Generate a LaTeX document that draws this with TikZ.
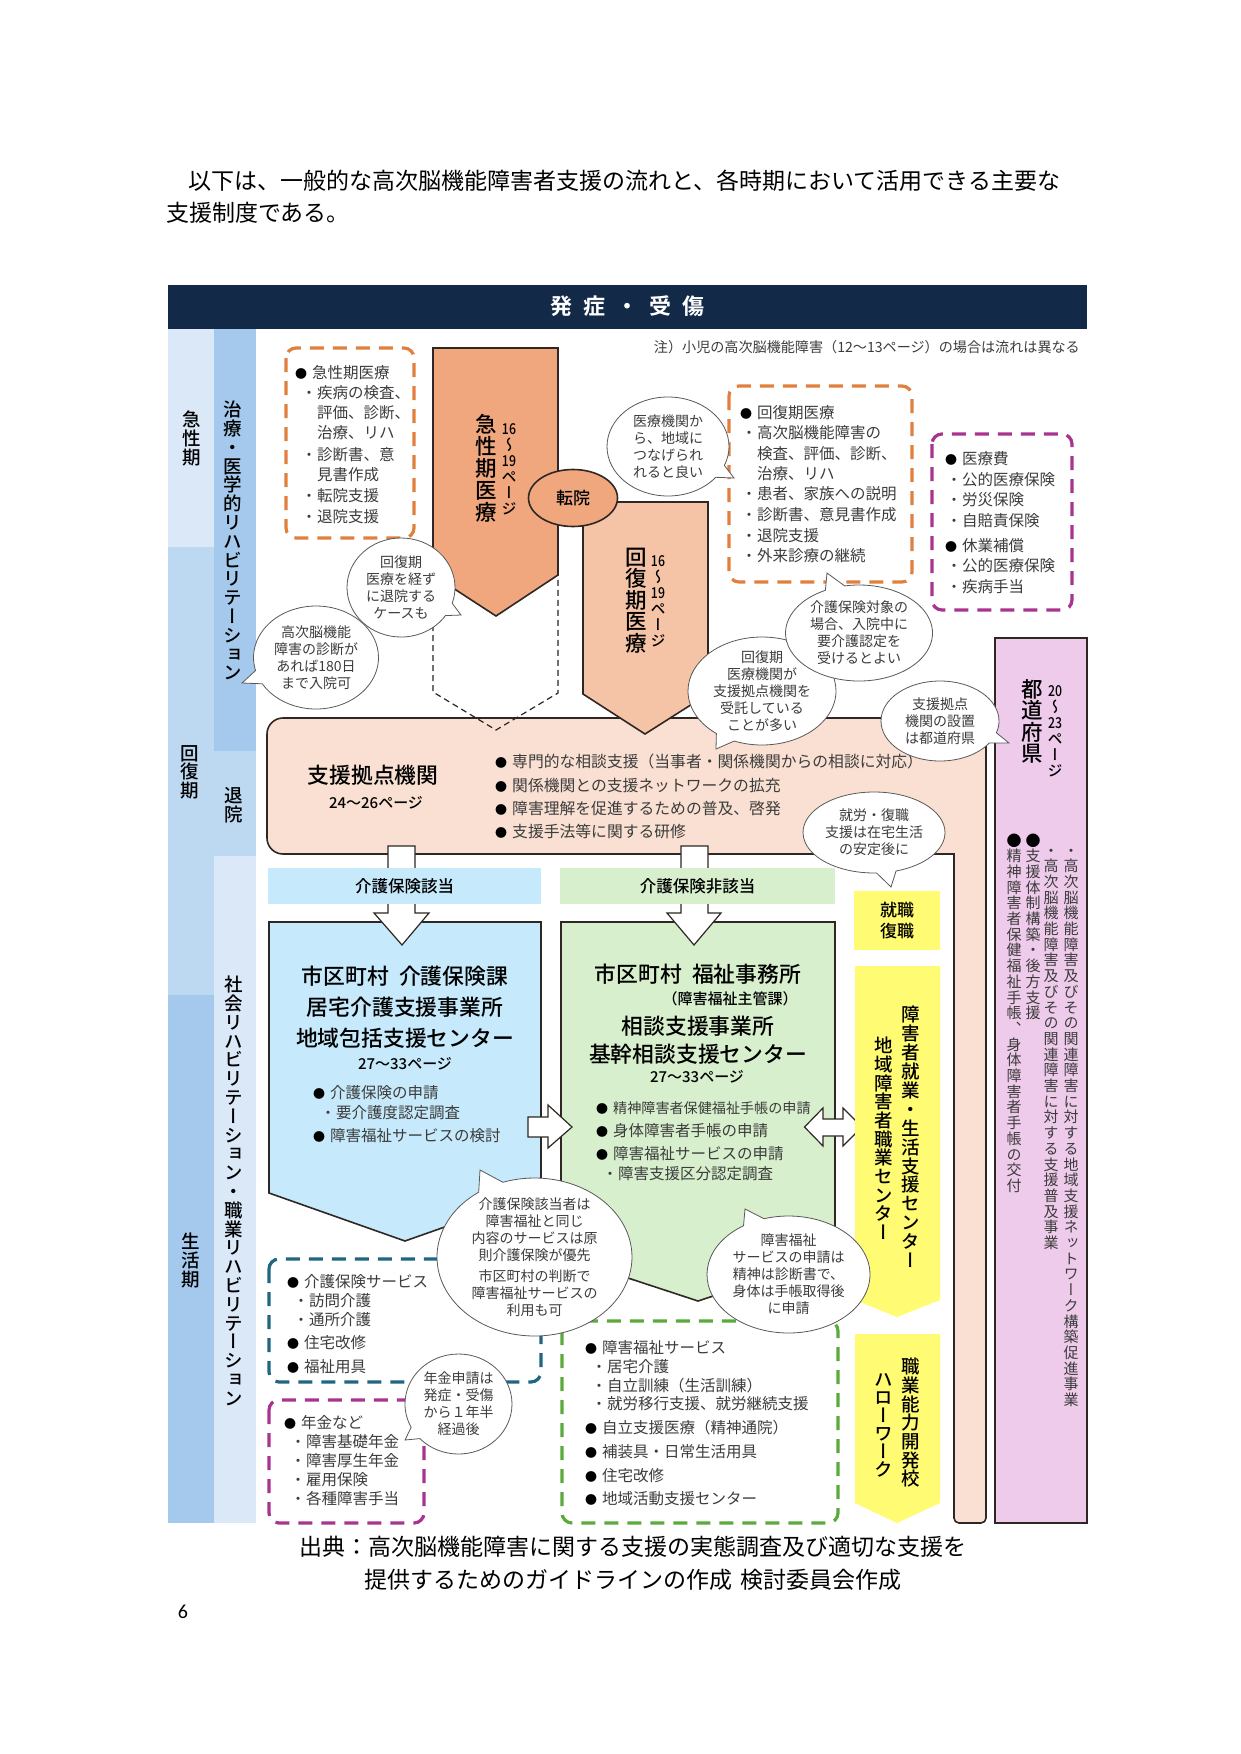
\documentclass[tikz,border=0pt]{standalone}
\usepackage{fontspec}
\usepackage{graphicx}
\usetikzlibrary{shapes.geometric,shapes.callouts}
\setmainfont[BoldFont={Noto Sans CJK JP Medium}]{Noto Sans CJK JP}
\newfontfamily\tatefont[RawFeature=+vert, BoldFont={Noto Sans CJK JP Medium}]{Noto Sans CJK JP}
\newfontfamily\heavyfont{Noto Sans CJK JP Bold}
\newfontfamily\pagenofont{Carlito}

\definecolor{navy}{HTML}{122A47}
\definecolor{paleblue}{HTML}{DAE8F8}
\definecolor{midblue}{HTML}{BDD8F1}
\definecolor{deepblue}{HTML}{A5C9EC}
\definecolor{acutefill}{HTML}{F0A77E}
\definecolor{recovfill}{HTML}{F5C4A6}
\definecolor{hubfill}{HTML}{F9E0D2}
\definecolor{carefill}{HTML}{C6E9FB}
\definecolor{welfill}{HTML}{D7EFCD}
\definecolor{jobfill}{HTML}{FFFB73}
\definecolor{prefill}{HTML}{EECBEB}
\definecolor{edge}{HTML}{2E2723}
\definecolor{ink}{HTML}{3C3C3C}
\definecolor{dashorange}{HTML}{E0803C}
\definecolor{dashpurple}{HTML}{A8348F}
\definecolor{dashteal}{HTML}{1F6680}
\definecolor{dashgreen}{HTML}{5AAA3C}

% vertical text, one cell per character
\newlength{\tatelen}
\newcommand{\tate}[2]{\setlength{\tatelen}{#1}\vbox{\offinterlineskip\tatefont\tateloop#2\relax}}
\def\tateloop#1{\ifx\relax#1\else\tatecell{#1}\expandafter\tateloop\fi}
\newcommand{\tatecell}[1]{\hbox to 1em{\hss\rule[-0.12\tatelen]{0pt}{\tatelen}\smash{#1}\hss}}
\newcommand{\narrow}[1]{\scalebox{.82}[1]{#1}}
\newcommand{\bulletmark}{\llap{\makebox[22pt][c]{\color{black}\fontsize{12}{12}\selectfont ●}}}
\newcommand{\dotmark}{\llap{\makebox[16pt][c]{\fontsize{15}{15}\selectfont ・}}}
\newcommand{\sz}[1]{\fontsize{#1}{#1}\selectfont}

\tikzset{
	shapeline/.style={draw=edge, line width=1.6pt, line join=miter},
	dashbox/.style={line width=3.2pt, rounded corners=10pt, dash pattern=on 14pt off 9pt},
	blockarrow/.style={draw=edge, line width=1.2pt, fill=white},
	rowtext/.style={anchor=west, inner sep=0pt, text=ink, font=\sz{15.5}, text height=12pt, text depth=1pt},
	plain/.style={inner sep=0pt, text=black},
	headtext/.style={plain, font=\sz{21.8}\bfseries},
	pagetext/.style={plain, font=\sz{15}\bfseries},
	tatenode/.style={plain, anchor=north},
	balloon/.style={ellipse callout, draw=black!65, line width=.8pt, fill=white, inner sep=0pt,
		callout pointer arc=16, align=center, text=ink, font=\fontsize{14}{17}\selectfont},
	bandbox/.style={inner sep=0pt, minimum height=36pt, font=\sz{16.5}\bfseries, text=black},
}

\begin{document}
\begin{tikzpicture}[x=1pt, y=-1pt]
	\useasboundingbox (0,0) rectangle (1241,1754);
	\fill[white] (0,0) rectangle (1241,1754);

	% page text
	\node[plain, anchor=west, font=\sz{23}] (introa) at (188,181) {以下は、一般的な高次脳機能障害者支援の流れと、各時期において活用できる主要な};
	\node[plain, anchor=west, font=\sz{23}] (introb) at (166,213) {支援制度である。};
	\node[plain, font=\sz{23}] (sourcea) at (633,1547) {出典：高次脳機能障害に関する支援の実態調査及び適切な支援を};
	\node[plain, font=\sz{23}] (sourceb) at (633,1580) {提供するためのガイドラインの作成\hspace{8pt}検討委員会作成};
	\node[plain, font=\sz{20}\pagenofont] (pageno) at (183,1612) {6};

	% header and side columns
	\node[fill=navy, text=white, inner sep=0pt, minimum width=919pt, minimum height=44pt, font=\sz{22}\heavyfont] (onset) at (627.5,307)
		{\raisebox{-15.5pt}{\smash{発\hspace{11pt}症\hspace{11pt}・\hspace{11pt}受\hspace{11pt}傷}}};
	\fill[paleblue] (168,329) rectangle (214,547);
	\fill[midblue] (168,547) rectangle (214,995);
	\fill[deepblue] (168,995) rectangle (214,1523);
	\fill[deepblue] (214,329) rectangle (256,751);
	\fill[midblue] (214,751) rectangle (256,856);
	\fill[paleblue] (214,856) rectangle (256,1523);
	\begin{scope}[font=\sz{18.5}\bfseries]
		\node[tatenode] (acutephase) at (192,410) {\tate{19pt}{急性期}};
		\node[tatenode] (recovphase) at (190,744) {\tate{18.5pt}{回復期}};
		\node[tatenode] (lifephase) at (191,1232) {\tate{19pt}{生活期}};
		\node[tatenode] (medrehab) at (233,400) {\tate{18.8pt}{治療・医学的リハビリテーション}};
		\node[tatenode] (discharge) at (234,786) {\tate{18.8pt}{退院}};
		\node[tatenode] (socrehab) at (234,975) {\tate{18.8pt}{社会リハビリテーション・職業リハビリテーション}};
	\end{scope}
	\node[plain, anchor=east, text=ink, font=\sz{14.1}] (note) at (1080,347) {注）小児の高次脳機能障害（12〜13ページ）の場合は流れは異なる};

	% hub box
	\draw[shapeline, fill=hubfill] (267,786) [rounded corners=16pt] -- (267,718) -- (986,718)
		[rounded corners=5pt] -- (986,1523) -- (954,1523) [sharp corners] -- (954,854)
		[rounded corners=16pt] -- (267,854) -- cycle;
	\node[headtext] (hubname) at (373,775) {支援拠点機関};
	\node[pagetext] (hubpage) at (376,803) {24〜26ページ};
	\foreach \y/\txt [count=\i] in {762/専門的な相談支援（当事者・関係機関からの相談に対応）, 786/関係機関との支援ネットワークの拡充, 809/障害理解を促進するための普及、啓発, 832/支援手法等に関する研修}
		\node[rowtext, font=\sz{15.8}] (hub\i) at (512,\y) {\bulletmark\txt};

	% acute and recovery
	\draw[black!85, line width=1.2pt, dash pattern=on 6pt off 4pt] (433,575) -- (433,692) -- (496,730) -- (558,693) -- (558,575);
	\draw[shapeline, fill=acutefill] (433,348) -- (558,348) -- (558,575) -- (496,616) -- (433,575) -- cycle;
	\draw[shapeline, fill=recovfill] (583,502) -- (708,502) -- (708,694) -- (645,734) -- (583,694) -- cycle;
	\node[tatenode, font=\sz{21.5}\bfseries] (acutename) at (486,413) {\tate{22pt}{急性期医療}};
	\node[tatenode, font=\sz{15}\bfseries] (acutepage) at (509,420) {\tate{16pt}{{\narrow{16}}〜{\narrow{19}}ページ}};
	\node[tatenode, font=\sz{21.5}\bfseries] (recovname) at (636,546) {\tate{21.5pt}{回復期医療}};
	\node[tatenode, font=\sz{15}\bfseries] (recovpage) at (658,552) {\tate{16pt}{{\narrow{16}}〜{\narrow{19}}ページ}};
	\node[ellipse, draw=edge, line width=1.6pt, fill=acutefill, inner sep=0pt, minimum width=89pt, minimum height=57pt, font=\sz{17}\bfseries] (transfer) at (573,498) {転院};

	% lists at the top
	\draw[dashbox, dashorange] (286,348) rectangle (414,538);
	\foreach \x/\y/\txt [count=\i] in {312/373/\bulletmark 急性期医療, 317/393/\dotmark 疾病の検査、, 317/413/評価、診断、, 317/433/治療、リハ, 317/455/\dotmark 診断書、意, 317/475/見書作成, 317/496/\dotmark 転院支援, 317/517/\dotmark 退院支援}
		\node[rowtext] (acutelist\i) at (\x,\y) {\txt};
	\draw[dashbox, dashorange] (729,386) rectangle (912,582);
	\foreach \y/\txt [count=\i] in {413/\bulletmark 回復期医療, 433/\dotmark 高次脳機能障害の, 454/検査、評価、診断、, 474/治療、リハ, 494/\dotmark 患者、家族への説明, 515/\dotmark 診断書、意見書作成, 536/\dotmark 退院支援, 556/\dotmark 外来診療の継続}
		\node[rowtext] (recovlist\i) at (757,\y) {\txt};
	\draw[dashbox, dashpurple] (932,434) rectangle (1072,610);
	\foreach \y/\txt [count=\i] in {459/\bulletmark 医療費, 480/\dotmark 公的医療保険, 500/\dotmark 労災保険, 521/\dotmark 自賠責保険, 546/\bulletmark 休業補償, 566/\dotmark 公的医療保険, 587/\dotmark 疾病手当}
		\node[rowtext] (costlist\i) at (962,\y) {\txt};

	% prefecture
	\draw[shapeline, fill=prefill] (995,638) rectangle (1087,1523);
	\node[tatenode, font=\sz{21.5}\bfseries] (prefname) at (1032,678) {\tate{21.5pt}{都道府県}};
	\node[tatenode, font=\sz{15}\bfseries] (prefpage) at (1055,682) {\tate{16pt}{{\narrow{20}}〜{\narrow{23}}ページ}};
	\begin{scope}[font=\sz{15}, text=ink]
		\node[inner sep=0pt, anchor=north] (prefa) at (1071,842) {\tate{15.7pt}{・高次脳機能障害及びその関連障害に対する地域支援ネットワーク構築促進事業}};
		\node[inner sep=0pt, anchor=north] (prefb) at (1051,842) {\tate{15.7pt}{・高次脳機能障害及びその関連障害に対する支援普及事業}};
		\node[inner sep=0pt, anchor=north] (prefc) at (1033,832) {\tate{15.7pt}{{\color{black}●}支援体制構築・後方支援}};
		\node[inner sep=0pt, anchor=north] (prefd) at (1014,832) {\tate{15.7pt}{{\color{black}●}精神障害者保健福祉手帳、身体障害者手帳の交付}};
	\end{scope}

	% care side
	\draw[shapeline, fill=carefill] (269,922) -- (541,922) -- (541,1193) -- (405,1241) -- (269,1193) -- cycle;
	\draw[blockarrow] (388,846) -- (415,846) -- (415,913) -- (429,913) -- (402,945) -- (374,913) -- (388,913) -- cycle;
	\node[bandbox, fill=carefill, minimum width=273pt] (careband) at (404.5,886) {介護保険該当};
	\node[headtext] (carea) at (405,976) {市区町村\hspace{10pt}介護保険課};
	\node[headtext] (careb) at (405,1007) {居宅介護支援事業所};
	\node[headtext] (carec) at (405,1038) {地域包括支援センター};
	\node[pagetext] (carepage) at (405,1064) {27〜33ページ};
	\node[rowtext] (carelista) at (330,1093) {\bulletmark 介護保険の申請};
	\node[rowtext] (carelistb) at (336,1113) {\dotmark 要介護度認定調査};
	\node[rowtext] (carelistc) at (330,1136) {\bulletmark 障害福祉サービスの検討};

	% welfare side
	\draw[shapeline, fill=welfill] (561,922) -- (835,922) -- (835,1256) -- (698,1301) -- (561,1256) -- cycle;
	\draw[blockarrow] (681,846) -- (708,846) -- (708,913) -- (721,913) -- (694,945) -- (667,913) -- (681,913) -- cycle;
	\node[bandbox, fill=welfill, minimum width=275pt] (welband) at (697.5,886) {介護保険非該当};
	\node[headtext] (wela) at (698,974) {市区町村\hspace{10pt}福祉事務所};
	\node[plain, font=\sz{15}\bfseries] (welb) at (730,999) {（障害福祉主管課）};
	\node[headtext] (welc) at (698,1026) {相談支援事業所};
	\node[headtext] (weld) at (698,1054) {基幹相談支援センター};
	\node[pagetext] (welpage) at (697,1077) {27〜33ページ};
	\node[rowtext, font=\sz{14.1}] (wellista) at (613,1108) {\bulletmark 精神障害者保健福祉手帳の申請};
	\node[rowtext] (wellistb) at (613,1131) {\bulletmark 身体障害者手帳の申請};
	\node[rowtext] (wellistc) at (613,1154) {\bulletmark 障害福祉サービスの申請};
	\node[rowtext] (wellistd) at (618,1174) {\dotmark 障害支援区分認定調査};

	% arrows between the boxes
	\draw[blockarrow] (528,1117) -- (548,1117) -- (548,1105) -- (572,1127) -- (548,1148) -- (548,1137) -- (528,1137) -- cycle;
	\draw[blockarrow] (823,1119) -- (843,1119) -- (843,1108) -- (862,1127) -- (843,1146) -- (843,1136) -- (823,1136) -- (823,1146) -- (804.5,1127) -- (823,1108) -- cycle;

	% work side
	\node[fill=jobfill, inner sep=0pt, minimum width=86pt, minimum height=59pt, align=center, font=\fontsize{17}{21}\selectfont\bfseries] (jobbox) at (897,920.5) {就職\\復職};
	\fill[jobfill] (855,966) -- (940,966) -- (940,1300) -- (897,1317) -- (855,1300) -- cycle;
	\fill[jobfill] (855,1334) -- (940,1334) -- (940,1503) -- (897,1523) -- (855,1503) -- cycle;
	\begin{scope}[font=\sz{18.5}\bfseries]
		\node[tatenode] (jobcentera) at (911,1005) {\tate{18.9pt}{障害者就業・生活支援センター}};
		\node[tatenode] (jobcenterb) at (884,1036) {\tate{18.7pt}{地域障害者職業センター}};
		\node[tatenode] (schoola) at (911,1357) {\tate{18.7pt}{職業能力開発校}};
		\node[tatenode] (schoolb) at (884,1370) {\tate{18pt}{ハローワーク}};
	\end{scope}

	% lists at the bottom
	\draw[dashbox, dashteal] (269,1259) rectangle (541,1382);
	\foreach \x/\y/\txt [count=\i] in {304/1282/\bulletmark 介護保険サービス, 309/1301/\dotmark 訪問介護, 309/1320/\dotmark 通所介護, 304/1343/\bulletmark 住宅改修, 304/1367/\bulletmark 福祉用具}
		\node[rowtext] (carelist\i) at (\x,\y) {\txt};
	\draw[dashbox, dashpurple] (269,1400) rectangle (424,1523);
	\foreach \x/\y/\txt [count=\i] in {301/1423/\bulletmark 年金など, 306/1442/\dotmark 障害基礎年金, 306/1461/\dotmark 障害厚生年金, 306/1480/\dotmark 雇用保険, 306/1499/\dotmark 各種障害手当}
		\node[rowtext] (pensionlist\i) at (\x,\y) {\txt};
	\draw[dashbox, dashgreen] (562,1321) rectangle (838,1523);
	\foreach \x/\y/\txt [count=\i] in {602/1348/\bulletmark 障害福祉サービス, 607/1367/\dotmark 居宅介護, 607/1386/\dotmark 自立訓練（生活訓練）, 607/1404/\dotmark 就労移行支援、就労継続支援, 602/1428/\bulletmark 自立支援医療（精神通院）, 602/1452/\bulletmark 補装具・日常生活用具, 602/1476/\bulletmark 住宅改修, 602/1499/\bulletmark 地域活動支援センター}
		\node[rowtext] (wellist\i) at (\x,\y) {\txt};

	% balloons
	\node[balloon, minimum width=125pt, minimum height=103pt, callout absolute pointer={(242,683)}] (noteb) at (316,657.5) {高次脳機能\\障害の診断が\\あれば180日\\まで入院可};
	\node[balloon, minimum width=108pt, minimum height=99pt, callout absolute pointer={(461,615)}] (notea) at (401,587.5) {回復期\\医療を経ず\\に退院する\\ケースも};
	\node[balloon, minimum width=122pt, minimum height=99pt, callout absolute pointer={(734,478)}] (notec) at (668,446.5) {医療機関か\\ら、地域に\\つなげられ\\れると良い};
	\node[balloon, minimum width=148pt, minimum height=108pt, inner ysep=-5pt, callout absolute pointer={(716,749)}] (notee) at (762,691) {回復期\\医療機関が\\支援拠点機関を\\受託している\\ことが多い};
	\node[balloon, minimum width=147pt, minimum height=96pt, callout absolute pointer={(827,573)}] (noted) at (859,633) {介護保険対象の\\場合、入院中に\\要介護認定を\\受けるとよい};
	\node[balloon, minimum width=118pt, minimum height=80pt, inner ysep=-2pt, callout absolute pointer={(1009,743)}] (notef) at (940,721) {支援拠点\\機関の設置\\は都道府県};
	\node[balloon, minimum width=142pt, minimum height=81pt, inner ysep=-2pt, callout absolute pointer={(891,887)}] (noteg) at (874,832.5) {就労・復職\\支援は在宅生活\\の安定後に};
	\node[balloon, minimum width=195pt, minimum height=158pt, inner ysep=-10pt, callout absolute pointer={(480,1170)}] (noteh) at (534.5,1257) {介護保険該当者は\\障害福祉と同じ\\内容のサービスは原\\則介護保険が優先\\[4pt]市区町村の判断で\\障害福祉サービスの\\利用も可};
	\node[balloon, minimum width=163pt, minimum height=117pt, inner ysep=-5pt, callout absolute pointer={(745,1209)}] (notei) at (788.5,1274.5) {障害福祉\\サービスの申請は\\精神は診断書で、\\身体は手帳取得後\\に申請};
	\node[balloon, minimum width=107pt, minimum height=100pt, callout absolute pointer={(405,1440)}] (notej) at (458.5,1404) {年金申請は\\発症・受傷\\から１年半\\経過後};
\end{tikzpicture}
\end{document}
